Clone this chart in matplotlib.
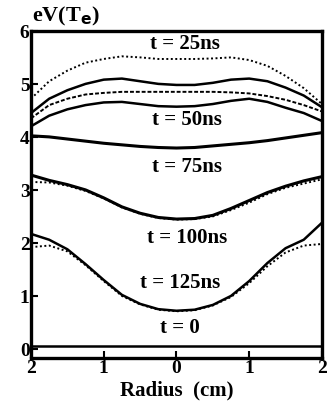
import matplotlib.pyplot as plt

plt.rcParams['font.family'] = ['Liberation Serif', 'DejaVu Serif']

# radius positions (cm), left edge -2 to right edge 2
r = [-2, -1.75, -1.5, -1.25, -1, -0.75, -0.5, -0.25, 0,
     0.25, 0.5, 0.75, 1, 1.25, 1.5, 1.75, 2]

# electron temperature profiles (eV)
t25_dot = [4.72, 5.05, 5.25, 5.4, 5.47, 5.52, 5.5, 5.47, 5.47,
           5.47, 5.48, 5.5, 5.45, 5.34, 5.15, 4.92, 4.62]
t25_sol = [4.45, 4.72, 4.88, 5.0, 5.08, 5.1, 5.05, 5.0, 4.98,
           4.98, 5.02, 5.08, 5.1, 5.05, 4.93, 4.78, 4.56]
t50_dash = [4.35, 4.6, 4.72, 4.8, 4.83, 4.85, 4.85, 4.85, 4.85,
            4.85, 4.85, 4.84, 4.82, 4.77, 4.7, 4.6, 4.48]
t50_sol = [4.2, 4.4, 4.52, 4.6, 4.65, 4.66, 4.62, 4.58, 4.57,
           4.58, 4.62, 4.68, 4.72, 4.66, 4.55, 4.45, 4.3]
t75_sol = [4.02, 4.0, 3.96, 3.92, 3.88, 3.85, 3.82, 3.8, 3.79,
           3.8, 3.83, 3.86, 3.89, 3.93, 3.98, 4.03, 4.08]
t100_sol = [3.28, 3.18, 3.1, 3.0, 2.85, 2.68, 2.56, 2.48, 2.45,
            2.46, 2.52, 2.65, 2.8, 2.95, 3.07, 3.17, 3.25]
t100_dot = [3.15, 3.14, 3.08, 2.98, 2.84, 2.67, 2.55, 2.47, 2.44,
            2.45, 2.5, 2.62, 2.76, 2.92, 3.04, 3.12, 3.2]
t125_sol = [2.17, 2.06, 1.88, 1.6, 1.3, 1.02, 0.85, 0.75, 0.72,
            0.74, 0.83, 1.0, 1.28, 1.62, 1.9, 2.06, 2.38]
t125_dot = [1.92, 1.95, 1.84, 1.58, 1.28, 1.0, 0.84, 0.74, 0.71,
            0.73, 0.82, 0.98, 1.24, 1.56, 1.82, 1.95, 1.98]
t0 = [0.05] * len(r)

labels = ['t = 25ns', 't = 50ns', 't = 75ns', 't = 100ns', 't = 125ns', 't = 0']
label_x = [0.12, 0.15, 0.15, 0.15, 0.05, 0.05]
label_y = [5.77, 4.34, 3.45, 2.11, 1.26, 0.42]

fig = plt.figure(figsize=(3.28, 4.14), dpi=100)
ax = fig.add_axes([0.0945, 0.133, 0.887, 0.79])

dot = (0, (1, 1.3))
ax.plot(r, t25_dot, color='black', lw=1.4, ls=dot)
ax.plot(r, t25_sol, color='black', lw=1.8)
ax.plot(r, t50_dash, color='black', lw=1.4, ls=(0, (2, 1)))
ax.plot(r, t50_sol, color='black', lw=1.8)
ax.plot(r, t75_sol, color='black', lw=2.2)
ax.plot(r, t100_dot, color='black', lw=1.4, ls=dot)
ax.plot(r, t100_sol, color='black', lw=2.2)
ax.plot(r, t125_dot, color='black', lw=1.4, ls=dot)
ax.plot(r, t125_sol, color='black', lw=1.8)
ax.plot(r, t0, color='black', lw=1.8)

for txt, x, y in zip(labels, label_x, label_y):
    ax.text(x, y, txt, ha='center', va='center', fontsize=15,
            fontweight='bold')

ax.set_xlim(-2, 2)
ax.set_ylim(-0.17, 6.0)
ax.set_xticks([-2, -1, 0, 1, 2])
ax.set_xticklabels(['2', '1', '0', '1', '2'])
ax.set_yticks([0, 1, 2, 3, 4, 5, 6])
ax.tick_params(direction='in', length=5, width=1.5, labelsize=14, pad=1)
for lab in ax.get_xticklabels() + ax.get_yticklabels():
    lab.set_fontweight('bold')
for s in ax.spines.values():
    s.set_linewidth(2.4)
ax.set_xlabel('Radius  (cm)', fontsize=15, fontweight='bold', labelpad=2)
fig.text(0.2, 0.961, 'eV(T$_\\mathbf{e}$)', ha='center', va='center',
         fontsize=16, fontweight='bold')

fig.savefig('out.png', dpi=100)
